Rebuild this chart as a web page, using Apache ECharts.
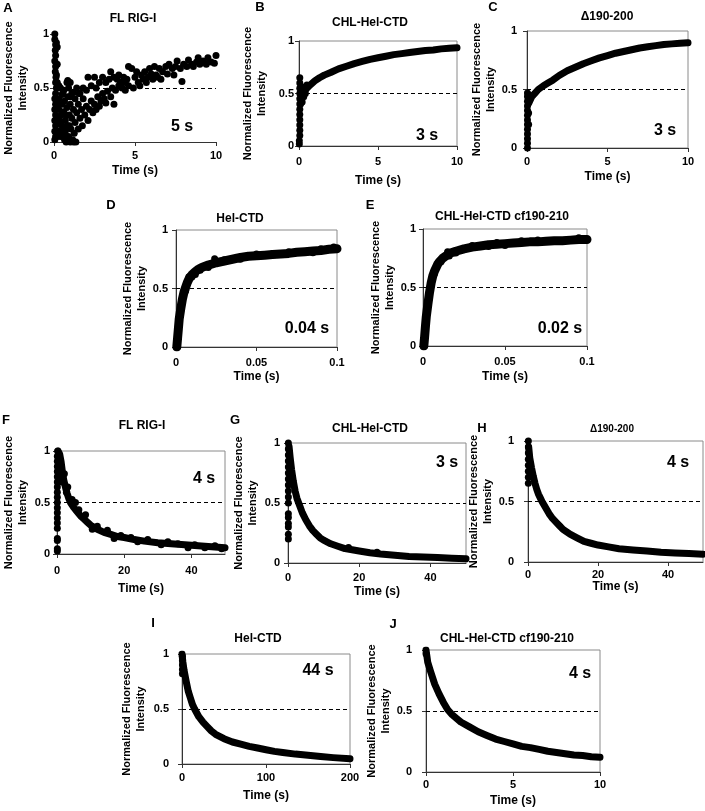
<!DOCTYPE html>
<html><head><meta charset="utf-8">
<script src="https://cdn.jsdelivr.net/npm/echarts@6/dist/echarts.min.js"></script>
<style>html,body{margin:0;padding:0;background:#fff}#c{width:705px;height:811px}</style>
</head><body><div id="c"></div>
<script>
// ---------- DATA (time, normalized fluorescence) ----------
const A_points = [[0.05,1.0],[0.05,0.95],[0.1,0.9],[0.08,0.85],[0.1,0.8],[0.05,0.75],[0.1,0.7],[0.08,0.65],[0.12,0.6],[0.1,0.55],[0.15,0.5],[0.1,0.45],[0.05,0.4],[0.1,0.35],[0.05,0.3],[0.1,0.25],[0.05,0.2],[0.1,0.15],[0.05,0.1],[0.1,0.05],[0.05,0.02],[0.15,0.92],[0.2,0.88],[0.2,0.72],[0.15,0.62],
[0.3,0.4],[0.3,0.3],[0.35,0.2],[0.3,0.1],[0.4,0.05],[0.45,0.25],[0.5,0.35],[0.5,0.15],[0.55,0.45],[0.6,0.05],[0.6,0.28],[0.65,0.38],[0.7,0.2],[0.7,0.1],[0.75,0.0],[0.8,0.32],[0.85,0.42],[0.85,0.15],[0.9,0.05],[0.95,0.25],[1.0,0.0],[1.0,0.35],[1.05,0.12],[1.1,0.45],[1.1,0.22],[1.15,0.02],[1.2,0.3],[1.25,0.08],[1.3,0.18],[1.3,0.4],[1.35,0.0],[1.4,0.27],[1.5,0.12],[1.5,0.35],[1.55,0.45],[1.6,0.22],[1.7,0.3],[1.75,0.15],[1.8,0.4],[1.9,0.25],[2.0,0.33],[2.1,0.2],[2.2,0.3],[2.3,0.38],[2.4,0.27],[2.5,0.35],[2.6,0.3],[2.7,0.42],[2.8,0.33],[2.9,0.38],[3.0,0.45],[3.1,0.4],[3.2,0.36],[3.3,0.47],[3.5,0.42],[3.6,0.5],[3.7,0.35],[3.8,0.48],[4.0,0.52],[4.2,0.5],[4.4,0.55],
[0.2,0.55],[0.4,0.5],[0.6,0.48],[0.8,0.55],[0.9,0.5],[1.0,0.42],[1.2,0.46],[1.4,0.5],[1.6,0.45],[1.8,0.5],[2.0,0.48],[2.1,0.6],[2.3,0.52],[2.5,0.6],[2.6,0.5],[2.8,0.55],[3.0,0.6],[3.2,0.55],[3.4,0.58],[3.5,0.65],[3.7,0.6],[3.9,0.58],[4.0,0.62],[4.1,0.55],[4.3,0.6],[4.5,0.58],[4.6,0.7],[4.8,0.68],[5.0,0.6],[5.1,0.65],[5.2,0.55],[5.4,0.62],[5.5,0.58],[5.6,0.65],[5.8,0.6],[5.9,0.68],[6.0,0.63],[6.2,0.7],[6.3,0.62],[6.5,0.68],[6.6,0.58],[6.7,0.65],[6.9,0.7],[7.0,0.63],[7.1,0.72],[7.3,0.68],[7.4,0.62],[7.5,0.7],[7.6,0.75],[7.8,0.68],[7.9,0.56],[8.0,0.72],[8.2,0.7],[8.3,0.76],[8.5,0.72],[8.6,0.7],[8.8,0.74],[8.9,0.78],[9.0,0.72],[9.2,0.75],[9.4,0.72],[9.5,0.78],[9.7,0.74],[9.9,0.73],[10.0,0.8],
[4.4,0.48],[4.6,0.52],[4.9,0.5],[5.3,0.52],[5.7,0.55],[6.1,0.58],[6.4,0.6],[0.85,0.57],[1.0,0.55],[0.3,0.52],[0.5,0.44],[0.25,0.35],[0.4,0.18],[0.55,0.1],[0.75,0.25],[0.95,0.15],[1.2,0.0],[0.65,0.02],[0.2,0.05],[0.25,0.22]];

const B_curve = [[0.1,0.45],[0.2,0.48],[0.3,0.51],[0.5,0.55],[0.7,0.58],[1.0,0.62],[1.3,0.65],[1.6,0.675],[2.0,0.70],[2.5,0.735],[3.0,0.76],[3.5,0.785],[4.0,0.805],[4.5,0.825],[5.0,0.84],[5.5,0.855],[6.0,0.87],[6.5,0.88],[7.0,0.89],[7.5,0.9],[8.0,0.91],[8.5,0.915],[9.0,0.925],[9.5,0.93],[10.0,0.935]];
const B_scatter = [[0.02,0.02],[0.02,0.05],[0.05,0.1],[0.05,0.15],[0.05,0.2],[0.05,0.25],[0.05,0.3],[0.05,0.35],[0.05,0.4],[0.05,0.45],[0.05,0.5],[0.05,0.55],[0.05,0.6],[0.05,0.65],[0.1,0.4],[0.1,0.5],[0.15,0.45],[0.15,0.55],[0.2,0.42],[0.2,0.52],[0.3,0.47],[0.3,0.56],[0.4,0.5],[0.5,0.58]];

const C_curve = [[0.1,0.38],[0.2,0.41],[0.3,0.44],[0.5,0.47],[0.7,0.5],[1.0,0.53],[1.3,0.555],[1.6,0.58],[2.0,0.62],[2.5,0.66],[3.0,0.69],[3.5,0.72],[4.0,0.745],[4.5,0.77],[5.0,0.79],[5.5,0.81],[6.0,0.825],[6.5,0.84],[7.0,0.855],[7.5,0.865],[8.0,0.875],[8.5,0.885],[9.0,0.89],[9.5,0.895],[10.0,0.9]];
const C_scatter = [[0.03,0.0],[0.03,0.04],[0.03,0.08],[0.03,0.12],[0.03,0.16],[0.03,0.2],[0.03,0.24],[0.03,0.28],[0.03,0.32],[0.03,0.36],[0.03,0.4],[0.03,0.44],[0.03,0.47],[0.1,0.2],[0.1,0.3],[0.1,0.42],[0.15,0.45]];

const D_curve = [[0.0005,0.0],[0.001,0.08],[0.0015,0.16],[0.002,0.24],[0.003,0.33],[0.004,0.41],[0.005,0.47],[0.006,0.51],[0.007,0.55],[0.008,0.58],[0.009,0.6],[0.01,0.62],[0.012,0.645],[0.014,0.665],[0.016,0.68],[0.018,0.69],[0.02,0.70],[0.025,0.72],[0.03,0.735],[0.035,0.75],[0.04,0.765],[0.045,0.775],[0.05,0.78],[0.055,0.785],[0.06,0.79],[0.065,0.795],[0.07,0.80],[0.075,0.81],[0.08,0.815],[0.085,0.82],[0.09,0.825],[0.095,0.835],[0.1,0.84]];
const D_scatter = [[0.024,0.755],[0.012,0.62],[0.006,0.48],[0.004,0.38],[0.09,0.84],[0.098,0.855],[0.05,0.795],[0.07,0.815],[0.015,0.655],[0.01,0.6],[0.008,0.6],[0.03,0.745],[0.04,0.75],[0.06,0.8],[0.02,0.68],[0.085,0.805]];

const E_curve = [[0.0005,0.0],[0.001,0.08],[0.0015,0.17],[0.002,0.25],[0.003,0.36],[0.004,0.46],[0.005,0.54],[0.006,0.6],[0.007,0.64],[0.008,0.67],[0.009,0.7],[0.01,0.72],[0.012,0.75],[0.014,0.77],[0.016,0.79],[0.02,0.81],[0.025,0.83],[0.03,0.845],[0.035,0.855],[0.04,0.865],[0.045,0.87],[0.05,0.875],[0.055,0.88],[0.06,0.885],[0.065,0.89],[0.07,0.89],[0.075,0.895],[0.08,0.9],[0.085,0.9],[0.09,0.905],[0.095,0.91],[0.1,0.91]];
const E_scatter = [[0.015,0.805],[0.016,0.77],[0.011,0.72],[0.007,0.62],[0.045,0.885],[0.05,0.86],[0.07,0.905],[0.095,0.925],[0.03,0.86],[0.02,0.795],[0.06,0.9],[0.04,0.85]];

const F_curve = [[0.3,1.0],[0.8,0.97],[1.2,0.9],[1.6,0.8],[2.0,0.72],[2.5,0.65],[3.0,0.59],[3.5,0.54],[4.0,0.5],[5.0,0.45],[6.0,0.41],[7.0,0.37],[8.0,0.34],[9.0,0.31],[10.0,0.28],[12.0,0.24],[14.0,0.21],[16.0,0.19],[18.0,0.17],[20.0,0.16],[23.0,0.14],[26.0,0.125],[30.0,0.11],[34.0,0.1],[38.0,0.09],[42.0,0.08],[46.0,0.07],[50.0,0.06]];
const F_scatter = [[0.1,0.03],[0.1,0.05],[0.1,0.13],[0.1,0.15],[0.1,0.25],[0.1,0.3],[0.1,0.35],[0.1,0.4],[0.1,0.45],[0.1,0.5],[0.1,0.55],[0.1,0.6],[0.1,0.65],[0.1,0.7],[0.1,0.75],[0.1,0.8],[0.1,0.85],[0.1,0.9],[0.1,0.95],[0.2,1.0],[0.5,0.92],[0.8,0.85],[1.0,0.75],[1.5,0.7],[2.2,0.78],[2.8,0.6],[3.2,0.65],[4.5,0.53],[5.5,0.5],[6.5,0.43],[8.5,0.38],[10.5,0.24],[12,0.27],[15,0.23],[17,0.15],[19,0.18],[22,0.16],[24,0.12],[27,0.14],[31,0.09],[33,0.12],[36,0.1],[39,0.06],[41,0.09],[44,0.06],[47,0.08],[49,0.05]];

const G_curve = [[0.3,0.97],[0.6,0.88],[1.0,0.78],[1.5,0.68],[2.0,0.6],[2.5,0.54],[3.0,0.5],[3.5,0.46],[4.0,0.42],[5.0,0.36],[6.0,0.31],[7.0,0.27],[8.0,0.24],[9.0,0.21],[10.0,0.19],[12.0,0.16],[14.0,0.14],[16.0,0.12],[18.0,0.11],[20.0,0.1],[23.0,0.085],[26.0,0.075],[30.0,0.065],[34.0,0.055],[38.0,0.05],[42.0,0.045],[46.0,0.04],[50.0,0.035]];
const G_scatter = [[0.1,0.2],[0.1,0.24],[0.1,0.3],[0.1,0.33],[0.1,0.38],[0.1,0.41],[0.1,0.5],[0.1,0.55],[0.1,0.6],[0.1,0.65],[0.1,0.7],[0.1,0.75],[0.1,0.8],[0.1,0.85],[0.1,0.9],[0.1,0.95],[0.1,1.0],[0.5,0.7],[1.0,0.68],[17,0.13],[25,0.09]];

const H_curve = [[0.2,0.95],[0.5,0.86],[1.0,0.78],[1.5,0.71],[2.0,0.65],[2.5,0.6],[3.0,0.56],[3.5,0.53],[4.0,0.5],[5.0,0.45],[6.0,0.4],[7.0,0.36],[8.0,0.33],[9.0,0.3],[10.0,0.27],[12.0,0.23],[14.0,0.2],[16.0,0.17],[18.0,0.155],[20.0,0.14],[23.0,0.125],[26.0,0.11],[30.0,0.1],[34.0,0.09],[38.0,0.08],[42.0,0.075],[46.0,0.07],[50.0,0.065]];
const H_scatter = [[0.1,0.65],[0.1,0.7],[0.1,0.75],[0.1,0.8],[0.1,0.85],[0.1,0.9],[0.1,0.95],[0.1,1.0]];

const I_curve = [[0,1.0],[1,0.93],[2.5,0.85],[5,0.75],[7.5,0.66],[10,0.6],[12.5,0.54],[15,0.5],[20,0.43],[25,0.38],[30,0.34],[35,0.3],[40,0.27],[50,0.23],[60,0.2],[70,0.18],[80,0.16],[90,0.145],[100,0.13],[110,0.115],[120,0.105],[135,0.09],[150,0.08],[165,0.068],[180,0.058],[200,0.048]];
const I_scatter = [[0.5,0.82],[0.5,0.86],[0.5,0.9],[0.5,0.94],[0.5,0.98]];

const J_curve = [[0,1.0],[0.05,0.95],[0.1,0.9],[0.25,0.83],[0.5,0.72],[0.75,0.64],[1.0,0.57],[1.25,0.51],[1.5,0.47],[1.75,0.44],[2.0,0.41],[2.5,0.37],[3.0,0.33],[3.5,0.3],[4.0,0.27],[4.5,0.25],[5.0,0.23],[5.5,0.21],[6.0,0.2],[6.5,0.185],[7.0,0.17],[7.5,0.16],[8.0,0.15],[8.5,0.14],[9.0,0.135],[9.5,0.125],[10.0,0.12]];
const J_scatter = [[0,0.97]];

const Y_TICKS = [0, 0.5, 1];

// ---------- PANEL LAYOUT ----------
const panels = [
 {letter:'A', title:'FL RIG-I', note:'5 s', curve:null, scatter:A_points, xMax:10, xInt:5, frame:false,
  g:{left:54,top:34,width:162,height:108}, yGap:21, yMargin:5, xMargin:8, xGap:23, letterPos:[8,8], titlePos:[133,19], notePos:[182,127]},
 {letter:'B', title:'CHL-Hel-CTD', note:'3 s', curve:B_curve, scatter:B_scatter, xMax:10, xInt:5, frame:true,
  g:{left:299,top:41,width:158,height:105}, yGap:30, yMargin:5, xMargin:10, xGap:29, letterPos:[260,7], titlePos:[370,23], notePos:[427,136]},
 {letter:'C', title:'\u0394190-200', note:'3 s', curve:C_curve, scatter:C_scatter, xMax:10, xInt:5, frame:true,
  g:{left:527,top:31,width:161,height:117}, yGap:28, yMargin:10, xMargin:8, xGap:23, letterPos:[493,7], titlePos:[607,17], notePos:[665,131]},
 {letter:'D', title:'Hel-CTD', note:'0.04 s', curve:D_curve, scatter:D_scatter, xMax:0.1, xInt:0.05, frame:true, lw:9,
  g:{left:176,top:230,width:161,height:117}, yGap:26, yMargin:8, xMargin:10, xGap:24, letterPos:[111,205], titlePos:[240,219], notePos:[307,329]},
 {letter:'E', title:'CHL-Hel-CTD cf190-210', note:'0.02 s', curve:E_curve, scatter:E_scatter, xMax:0.1, xInt:0.05, frame:true, lw:9,
  g:{left:423,top:229,width:164,height:117}, yGap:23, yMargin:7, xMargin:10, xGap:25, letterPos:[370,205], titlePos:[502,217], notePos:[560,329]},
 {letter:'F', title:'FL RIG-I', note:'4 s', curve:F_curve, scatter:F_scatter, xMax:50, xInt:20, frame:true,
  g:{left:57,top:451,width:168,height:103}, yGap:27, yMargin:7, xMargin:11, xGap:29, letterPos:[6,420], titlePos:[142,426], notePos:[204,479]},
 {letter:'G', title:'CHL-Hel-CTD', note:'3 s', curve:G_curve, scatter:G_scatter, xMax:50, xInt:20, frame:true,
  g:{left:288,top:443,width:178,height:120}, yGap:28, yMargin:8, xMargin:9, xGap:23, letterPos:[235,420], titlePos:[370,429], notePos:[447,463]},
 {letter:'H', title:'\u0394190-200', note:'4 s', curve:H_curve, scatter:H_scatter, xMax:50, xInt:20, frame:true,
  g:{left:528,top:441,width:175,height:121}, yGap:28, yMargin:14, xMargin:7, xGap:19, letterPos:[482,428], titlePos:[612,429], notePos:[678,463], titleSize:10},
 {letter:'I', title:'Hel-CTD', note:'44 s', curve:I_curve, scatter:I_scatter, xMax:200, xInt:100, frame:true,
  g:{left:182,top:654,width:168,height:110}, yGap:34, yMargin:13, xMargin:8, xGap:26, letterPos:[153,623], titlePos:[258,639], notePos:[318,671]},
 {letter:'J', title:'CHL-Hel-CTD cf190-210', note:'4 s', curve:J_curve, scatter:J_scatter, xMax:10, xInt:5, frame:true,
  g:{left:426,top:650,width:174,height:122}, yGap:30, yMargin:14, xMargin:7, xGap:23, letterPos:[393,624], titlePos:[507,639], notePos:[580,674]}
];

const FONT = 'Liberation Sans, Arial, sans-serif';
const grid = [], xAxis = [], yAxis = [], series = [], graphic = [];

panels.forEach((p, i) => {
  grid.push(Object.assign({show: p.frame, borderColor: '#8a8a8a', borderWidth: 1, backgroundColor: 'transparent'}, p.g));
  const tickLabel = {color: '#000', fontSize: 11, fontWeight: 'bold', fontFamily: FONT};
  const axCommon = {
    gridIndex: i,
    axisLine: {show: true, lineStyle: {color: '#333', width: 1}},
    axisTick: {show: true, length: 4, lineStyle: {color: '#333'}},
    splitLine: {show: false}
  };
  xAxis.push(Object.assign({}, axCommon, {
    type: 'value', min: 0, max: p.xMax, interval: p.xInt,
    name: 'Time (s)', nameLocation: 'middle', nameGap: p.xGap,
    nameTextStyle: {color: '#000', fontSize: 12, fontWeight: 'bold', fontFamily: FONT},
    axisLabel: Object.assign({}, tickLabel, {margin: p.xMargin, showMaxLabel: (p.xMax % p.xInt) === 0})
  }));
  yAxis.push(Object.assign({}, axCommon, {
    type: 'value', min: Y_TICKS[0], max: Y_TICKS[2], interval: Y_TICKS[1] - Y_TICKS[0],
    name: 'Normalized Fluorescence\nIntensity', nameLocation: 'middle', nameGap: p.yGap, nameRotate: 90,
    nameTextStyle: {color: '#000', fontSize: 11, fontWeight: 'bold', fontFamily: FONT, lineHeight: 14},
    axisLabel: Object.assign({}, tickLabel, {margin: p.yMargin})
  }));
  const mark = {
    silent: true, symbol: ['none', 'none'], label: {show: false},
    lineStyle: {type: [4, 3], color: '#000', width: 1},
    data: [{yAxis: 0.5}]
  };
  if (p.curve) {
    series.push({
      type: 'line', xAxisIndex: i, yAxisIndex: i, data: p.curve,
      showSymbol: false, lineStyle: {color: '#000', width: p.lw || 7, cap: 'round', join: 'round'},
      itemStyle: {color: '#000'}, z: 3, markLine: mark
    });
  }
  series.push({
    type: 'scatter', xAxisIndex: i, yAxisIndex: i, data: p.scatter,
    symbol: 'circle', symbolSize: 7, itemStyle: {color: '#000', opacity: 1}, z: 4,
    markLine: p.curve ? undefined : mark
  });
  graphic.push({type: 'text', x: p.letterPos[0], y: p.letterPos[1],
    style: {text: p.letter, font: 'bold 13px ' + FONT, fill: '#000', textAlign: 'center', textVerticalAlign: 'middle'}});
  graphic.push({type: 'text', x: p.titlePos[0], y: p.titlePos[1],
    style: {text: p.title, font: 'bold ' + (p.titleSize || 12) + 'px ' + FONT, fill: '#000', textAlign: 'center', textVerticalAlign: 'middle'}});
  graphic.push({type: 'text', x: p.notePos[0], y: p.notePos[1], z: 10,
    style: {text: p.note, font: 'bold 16px ' + FONT, fill: '#000', textAlign: 'center', textVerticalAlign: 'middle'}});
});

const chart = echarts.init(document.getElementById('c'), null, {renderer: 'canvas'});
chart.setOption({animation: false, backgroundColor: '#fff', grid, xAxis, yAxis, series, graphic});
</script>
</body></html>
